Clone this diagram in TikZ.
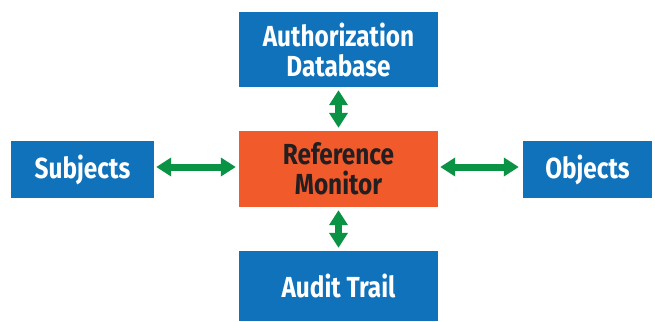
\documentclass[tikz,border=0pt]{standalone}
\usepackage{fontspec}
\setmainfont{Fira Sans}[FakeStretch=0.84]
\usetikzlibrary{arrows.meta}
\definecolor{boxblue}{RGB}{16,114,186}
\definecolor{boxorange}{RGB}{241,90,43}
\definecolor{arrowgreen}{RGB}{10,147,68}
\definecolor{darktext}{RGB}{35,31,32}
\tikzset{
  box/.style={fill=boxblue, draw=none, text=white, align=center, inner sep=0pt,
    font=\bfseries\fontsize{29}{30}\selectfont},
  monitor/.style={box, fill=boxorange, text=darktext},
  link/.style={draw=arrowgreen, line width=7pt,
    {Triangle[width=18pt,length=15pt]}-{Triangle[width=18pt,length=15pt]}}
}
\begin{document}
\begin{tikzpicture}[x=1pt,y=-1pt]
\useasboundingbox (0,0) rectangle (655,321);
\node[box, minimum width=199pt, minimum height=75pt] (auth) at (338.5,49.5) {Authorization\\Database};
\node[monitor, minimum width=199pt, minimum height=76pt] (ref) at (338.5,169) {Reference\\Monitor};
\node[box, minimum width=199pt, minimum height=70pt] (audit) at (338.5,286) {Audit Trail};
\node[box, minimum width=143pt, minimum height=57pt] (sub) at (82.5,169.5) {Subjects};
\node[box, minimum width=129pt, minimum height=57pt] (obj) at (587.5,169.5) {Objects};
\draw[link] ([yshift=-3pt]auth.south) -- ([yshift=3pt]ref.north);
\draw[link] ([yshift=-3pt]ref.south) -- ([yshift=3pt]audit.north);
\draw[link] ([xshift=2pt,yshift=2.5pt]sub.east) -- ([xshift=-3pt,yshift=2pt]ref.west);
\draw[link] ([xshift=2pt,yshift=2pt]ref.east) -- ([xshift=-4pt,yshift=2.5pt]obj.west);
\end{tikzpicture}
\end{document}
